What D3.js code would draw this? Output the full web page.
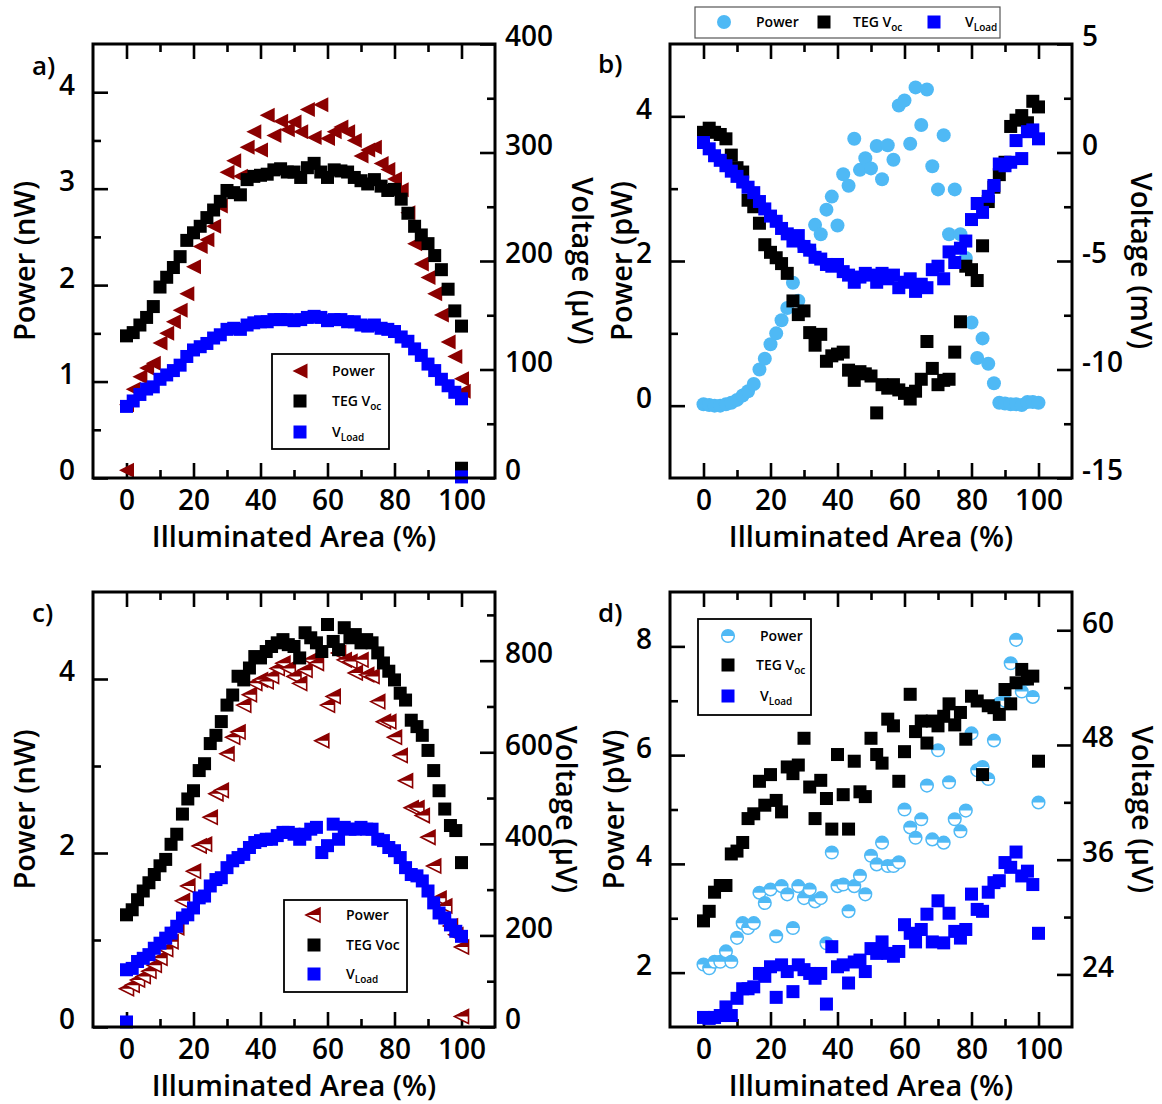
<!DOCTYPE html>
<html lang="en">
<head>
<meta charset="UTF-8">
<title>Illuminated area</title>
<script src="https://cdn.jsdelivr.net/npm/d3@7"></script>
<style>
  html, body { margin: 0; padding: 0; background: #fff; }
  svg { display: block; }
</style>
</head>
<body>
<script>
// ---- data ----
var xTicksMajor = [0, 20, 40, 60, 80, 100];
var xTicksMinor = [10, 30, 50, 70, 90];

// panel a: 2 % steps
var xA = [0,2,4,6,8,10,12,14,16,18,20,22,24,26,28,30,32,34,36,38,40,42,44,46,48,50,
          52,54,56,58,60,62,64,66,68,70,72,74,76,78,80,82,84,86,88,90,92,94,96,98,100];
var powerA = [0.76,0.92,1.05,1.14,1.19,1.40,1.50,1.62,1.74,1.91,2.19,2.40,2.47,2.61,2.82,3.17,3.29,3.13,3.43,3.59,
              3.40,3.76,3.55,3.70,3.61,3.69,3.59,3.82,3.53,3.87,3.52,3.59,3.64,3.59,3.50,3.34,3.40,3.43,3.26,3.20,
              3.10,2.99,2.75,2.43,2.22,2.08,1.91,1.69,1.41,1.26,1.03];
var tegA = [131,134,141,148,158,176,185,194,204,219,226,232,240,247,255,265,263,261,275,278,
            279,280,284,285,282,282,277,286,290,282,277,284,283,282,277,274,271,275,269,265,
            266,257,244,232,224,216,205,192,174,154,140];
var loadA = [66,71,77,82,84,91,95,99,104,112,118,121,124,129,132,137,138,137,141,143,
             144,144,146,146,146,145,146,148,149,148,145,146,146,144,144,141,140,141,138,137,
             135,130,126,119,113,105,99,91,85,79,73];
var powerAExtra = [[0, 0.08], [100.5, 0.9]];
var tegAExtra = [[100, 9]];
var loadAExtra = [[100, 1]];

// panels b, c, d: 61 points
var xFine = [0,1.7,3.3,5,6.7,8.3,10,11.7,13.3,15,16.7,18.3,20,21.7,23.3,25,26.7,28.3,30,31.7,
             33.3,35,36.7,38.3,40,41.7,43.3,45,46.7,48.3,50,51.7,53.3,55,56.7,58.3,60,61.7,63.3,65,
             66.7,68.3,70,71.7,73.3,75,76.7,78.3,80,81.7,83.3,85,86.7,88.3,90,91.7,93.3,95,96.7,98.3,100];

var powerB = [0.02,0.01,0.0,0.0,0.02,0.04,0.08,0.14,0.2,0.3,0.5,0.65,0.85,1.0,1.18,1.35,1.7,1.45,2.2,2.15,
              2.5,2.37,2.71,2.89,2.49,3.2,3.04,3.69,3.26,3.42,3.28,3.59,3.13,3.6,3.4,4.15,4.22,3.62,4.4,3.88,
              4.37,3.31,2.99,3.74,2.37,2.99,2.37,2.04,1.15,0.66,0.93,0.58,0.31,0.04,0.03,0.02,0.02,0.01,0.05,0.05,0.04];
var tegB = [0.93,1.12,0.93,0.83,0.63,-0.12,-0.7,-0.9,-2.2,-2.5,-3.26,-4.25,-4.6,-4.85,-5.12,-5.57,-6.84,-7.47,-7.3,-8.3,
            -8.88,-8.38,-9.62,-9.37,-9.29,-9.2,-10.03,-10.5,-10.1,-10.2,-10.3,-12.0,-10.7,-10.86,-10.7,-10.94,-11.1,-11.36,-11.0,-10.45,
            -8.71,-9.95,-10.7,-10.5,-10.45,-9.2,-7.8,-5.24,-5.4,-5.9,-4.3,-2.26,-1.6,-1.02,-0.45,1.2,1.49,1.7,1.37,2.36,2.1];
var loadB = [0.46,0.17,-0.15,-0.36,-0.61,-0.86,-1.1,-1.36,-1.6,-1.85,-2.26,-2.6,-2.93,-3.17,-3.5,-3.75,-4.08,-3.83,-4.33,-4.5,
             -4.83,-4.91,-5.16,-5.24,-5.16,-5.49,-5.65,-5.98,-5.74,-5.57,-5.65,-5.98,-5.57,-5.82,-5.65,-6.23,-5.98,-5.82,-6.4,-6.07,
             -6.23,-5.4,-5.24,-5.82,-4.58,-5.07,-4.41,-4.08,-3.09,-2.35,-2.76,-2.02,-1.52,-0.53,-0.61,-0.45,0.55,-0.28,0.96,1.04,0.63];

var powerC = [0.44,0.48,0.54,0.58,0.64,0.71,0.79,0.89,0.98,1.14,1.45,1.62,1.79,2.08,2.1,2.41,2.68,2.72,3.14,3.33,
              3.39,3.7,3.82,3.95,3.99,3.97,4.03,4.12,4.18,4.12,4.03,3.95,4.1,4.22,4.18,3.29,3.7,3.8,4.3,4.22,
              4.2,4.07,4.22,4.05,4.03,3.74,3.51,3.51,3.33,3.12,2.83,2.52,2.52,2.43,2.18,1.85,1.48,1.39,1.16,1.06,0.92];
var tegC = [245,256,278,297,315,333,352,366,399,421,465,498,516,560,575,619,637,667,703,725,
            766,758,784,809,806,820,831,839,846,835,831,806,861,850,839,820,879,842,824,872,
            850,857,839,846,839,817,795,777,758,729,714,670,656,637,604,560,516,476,440,429,359];
var loadC = [125,128,143,150,158,172,183,194,205,220,238,245,260,282,286,308,322,326,348,363,
             370,377,392,403,407,410,410,418,425,425,421,410,421,432,436,381,396,443,410,436,
             432,432,436,432,432,410,407,392,385,370,348,333,330,319,297,271,249,238,223,209,198];
var powerCExtra = [[100, 0.12]];
var loadCExtra = [[0, 11]];

var powerD = [2.15,2.08,2.2,2.2,2.39,2.2,2.64,2.91,2.82,2.91,3.47,3.28,3.53,2.67,3.59,3.44,2.82,3.59,3.37,3.53,
              3.31,3.37,2.54,4.21,3.59,3.62,3.13,3.59,3.78,3.44,4.15,3.99,4.39,3.96,3.96,4.03,5.0,4.67,4.48,4.82,
              5.44,4.45,6.09,4.39,5.5,4.82,4.6,4.98,6.4,5.72,5.78,5.56,6.27,6.95,7.0,7.69,8.12,7.17,7.4,7.07,5.13];
var tegD = [29.6,30.6,32.6,33.3,33.3,36.6,36.9,37.8,40.3,40.8,44.2,41.7,44.9,42.2,41.0,45.7,45,45.9,48.7,43.6,
            40.3,44.3,42.4,39.2,47,42.8,39.2,46.3,43.1,42.6,48.7,47,46.1,50.7,50,44.2,47.3,53.3,49.4,50.5,
            48.2,50.5,50,51,52.3,50.1,51.4,48.6,53.1,52.6,44.9,52.1,51.9,51.2,53.8,52.3,54.5,55.9,54.9,55.2,46.3];
var loadD = [19.5,19.4,19.5,19.7,20.6,19.7,21.5,22.5,22.5,22.7,24.1,23.8,24.8,21.6,25,24.3,22.2,25,24.5,24.1,
             23.6,24.1,20.9,26.9,24.8,25,23.1,25.3,25.5,24.3,26.7,26.2,27.4,26.2,25.9,26.4,29.2,28.3,27.4,28.7,
             30.3,27.4,31.7,27.3,30.4,28.5,27.8,28.7,32.4,30.8,30.6,32.6,33.6,33.8,35.7,35.2,36.8,34.3,34.8,33.4,28.3];

// ---- drawing ----
var FONT = "'Open Sans', 'Noto Sans', sans-serif";
var RED = "#8b0000", BLUE = "#0000ff", SKY = "#4fb9f5";

var svg = d3.select("body").append("svg").attr("width", 1162).attr("height", 1104);

function pairs(xs, ys) { return ys.map(function(v, i) { return [xs[i], v]; }); }

// marker painters, each draws one symbol into a <g> centred at 0,0
var marks = {
  triFull: function(s, c) {
    s.append("path").attr("d", "M-7.5,0L7.5,-7.5L7.5,7.5Z").attr("fill", c);
  },
  triHalf: function(s, c) {
    s.append("path").attr("d", "M-7,0L7,-7L7,7Z").attr("fill", "#fff").attr("stroke", c).attr("stroke-width", 1.6);
    s.append("path").attr("d", "M-7,0L7,-7L7,0Z").attr("fill", c);
  },
  square: function(s, c) {
    s.append("rect").attr("x", -6.5).attr("y", -6.5).attr("width", 13).attr("height", 13).attr("fill", c);
  },
  circle: function(s, c) {
    s.append("circle").attr("r", 7).attr("fill", c);
  },
  circleHalf: function(s, c) {
    s.append("circle").attr("r", 6.3).attr("fill", "#fff").attr("stroke", c).attr("stroke-width", 1.5);
    s.append("path").attr("d", "M-6.3,0A6.3,6.3 0 0 1 6.3,0Z").attr("fill", c);
  }
};

function scatter(g, pts, x, y, mark, color) {
  g.append("g").selectAll("g").data(pts).join("g")
    .attr("transform", function(d) { return "translate(" + x(d[0]) + "," + y(d[1]) + ")"; })
    .each(function() { marks[mark](d3.select(this), color); });
}

function styleText(sel, size) {
  sel.attr("font-family", FONT).attr("font-size", size).attr("font-weight", 600).attr("fill", "#000");
}

function labelWithSub(t, main, sub) {
  t.append("tspan").text(main);
  if (sub) t.append("tspan").text(sub).attr("font-size", 10).attr("dy", 4);
}

function drawPanel(p) {
  var g = svg.append("g");
  var x = d3.scaleLinear().domain([-10, 110]).range([p.left, p.right]);
  var yL = d3.scaleLinear().domain(p.yL).range([p.bottom, p.top]);
  var yR = d3.scaleLinear().domain(p.yR).range([p.bottom, p.top]);
  var fmt = function(d) { return String(d); };

  var axes = [
    [d3.axisBottom(x).tickValues(xTicksMajor).tickSize(-15).tickPadding(12).tickFormat(fmt), p.bottom, 0, "x"],
    [d3.axisBottom(x).tickValues(xTicksMinor).tickSize(-8).tickFormat(""), p.bottom, 0],
    [d3.axisTop(x).tickValues(xTicksMajor).tickSize(-15).tickFormat(""), p.top, 0],
    [d3.axisTop(x).tickValues(xTicksMinor).tickSize(-8).tickFormat(""), p.top, 0],
    [d3.axisLeft(yL).tickValues(p.yLMajor).tickSize(-15).tickPadding(18).tickFormat(fmt), 0, p.left, "y"],
    [d3.axisLeft(yL).tickValues(p.yLMinor).tickSize(-8).tickFormat(""), 0, p.left],
    [d3.axisRight(yR).tickValues(p.yRMajor).tickSize(-15).tickPadding(10).tickFormat(fmt), 0, p.right, "y"],
    [d3.axisRight(yR).tickValues(p.yRMinor).tickSize(-8).tickFormat(""), 0, p.right]
  ];
  axes.forEach(function(a) {
    var ag = g.append("g").attr("transform", "translate(" + a[2] + "," + a[1] + ")").call(a[0]);
    ag.select(".domain").remove();
    ag.selectAll("line").attr("stroke", "#000").attr("stroke-width", 2.6);
    var txt = ag.selectAll("text");
    styleText(txt, 28);
    if (a[3] === "y") txt.attr("dy", "0.07em");
  });

  // data
  var pg = g.append("g");
  p.series.forEach(function(s) {
    scatter(pg, s.pts, x, s.axis === "L" ? yL : yR, s.mark, s.color);
  });

  g.append("rect").attr("x", p.left).attr("y", p.top)
    .attr("width", p.right - p.left).attr("height", p.bottom - p.top)
    .attr("fill", "none").attr("stroke", "#000").attr("stroke-width", 3);

  // titles
  var cy = (p.top + p.bottom) / 2;
  styleText(g.append("text").attr("x", (p.left + p.right) / 2).attr("y", p.bottom + 69)
    .attr("text-anchor", "middle").text("Illuminated Area (%)"), 29);
  styleText(g.append("text").attr("transform", "translate(" + p.lTitleX + "," + cy + ") rotate(-90)")
    .attr("text-anchor", "middle").attr("dy", "0.36em").text(p.lTitle), 29);
  styleText(g.append("text").attr("transform", "translate(" + p.rTitleX + "," + cy + ") rotate(90)")
    .attr("text-anchor", "middle").attr("dy", "0.36em").text(p.rTitle), 29);
  styleText(g.append("text").attr("x", p.tagX).attr("y", p.tagY).text(p.tag), 26);

  // legend
  var L = p.legend, lg = g.append("g");
  lg.append("rect").attr("x", L.x).attr("y", L.y).attr("width", L.w).attr("height", L.h)
    .attr("fill", "#fff").attr("stroke", L.stroke || "#000").attr("stroke-width", L.sw || 1.8);
  L.items.forEach(function(it) {
    var s = lg.append("g").attr("transform", "translate(" + it.mx + "," + it.my + ")");
    marks[it.mark](s, it.color);
    var t = lg.append("text").attr("x", it.tx).attr("y", it.my + 5);
    styleText(t, 14);
    labelWithSub(t, it.label, it.sub);
  });
}

drawPanel({
  left: 93, right: 495, top: 44, bottom: 478,
  yL: [0, 4.5], yLMajor: [0, 1, 2, 3, 4], yLMinor: [0.5, 1.5, 2.5, 3.5],
  yR: [0, 400], yRMajor: [0, 100, 200, 300, 400], yRMinor: [50, 150, 250, 350],
  lTitle: "Power (nW)", lTitleX: 25, rTitle: "Voltage (\u00b5V)", rTitleX: 582,
  tag: "a)", tagX: 32, tagY: 75,
  series: [
    { pts: pairs(xA, powerA).concat(powerAExtra), axis: "L", mark: "triFull", color: RED },
    { pts: pairs(xA, tegA).concat(tegAExtra), axis: "R", mark: "square", color: "#000" },
    { pts: pairs(xA, loadA).concat(loadAExtra), axis: "R", mark: "square", color: BLUE }
  ],
  legend: { x: 272, y: 354, w: 117, h: 95, items: [
    { mark: "triFull", color: RED, mx: 300, my: 371, tx: 332, label: "Power" },
    { mark: "square", color: "#000", mx: 300, my: 401, tx: 332, label: "TEG V", sub: "oc" },
    { mark: "square", color: BLUE, mx: 300, my: 432, tx: 332, label: "V", sub: "Load" }
  ] }
});

drawPanel({
  left: 670, right: 1072, top: 44, bottom: 478,
  yL: [-1, 5], yLMajor: [0, 2, 4], yLMinor: [1, 3],
  yR: [-15, 5], yRMajor: [-15, -10, -5, 0, 5], yRMinor: [-12.5, -7.5, -2.5, 2.5],
  lTitle: "Power (pW)", lTitleX: 622, rTitle: "Voltage (mV)", rTitleX: 1141,
  tag: "b)", tagX: 598, tagY: 73,
  series: [
    { pts: pairs(xFine, powerB), axis: "L", mark: "circle", color: SKY },
    { pts: pairs(xFine, tegB), axis: "R", mark: "square", color: "#000" },
    { pts: pairs(xFine, loadB), axis: "R", mark: "square", color: BLUE }
  ],
  legend: { x: 695, y: 7, w: 305, h: 31, stroke: "#555", sw: 1.2, items: [
    { mark: "circle", color: SKY, mx: 724, my: 22, tx: 756, label: "Power" },
    { mark: "square", color: "#000", mx: 824, my: 22, tx: 853, label: "TEG V", sub: "oc" },
    { mark: "square", color: BLUE, mx: 934, my: 22, tx: 965, label: "V", sub: "Load" }
  ] }
});

drawPanel({
  left: 93, right: 495, top: 592, bottom: 1027,
  yL: [0, 5], yLMajor: [0, 2, 4], yLMinor: [1, 3],
  yR: [0, 950], yRMajor: [0, 200, 400, 600, 800], yRMinor: [100, 300, 500, 700, 900],
  lTitle: "Power (nW)", lTitleX: 25, rTitle: "Voltage (\u00b5V)", rTitleX: 566,
  tag: "c)", tagX: 32, tagY: 622,
  series: [
    { pts: pairs(xFine, powerC).concat(powerCExtra), axis: "L", mark: "triHalf", color: RED },
    { pts: pairs(xFine, tegC), axis: "R", mark: "square", color: "#000" },
    { pts: pairs(xFine, loadC).concat(loadCExtra), axis: "R", mark: "square", color: BLUE }
  ],
  legend: { x: 284, y: 900, w: 123, h: 92, items: [
    { mark: "triHalf", color: RED, mx: 313, my: 915, tx: 346, label: "Power" },
    { mark: "square", color: "#000", mx: 314, my: 945, tx: 346, label: "TEG Voc" },
    { mark: "square", color: BLUE, mx: 314, my: 974, tx: 346, label: "V", sub: "Load" }
  ] }
});

drawPanel({
  left: 670, right: 1072, top: 592, bottom: 1027,
  yL: [1, 9], yLMajor: [2, 4, 6, 8], yLMinor: [3, 5, 7],
  yR: [18.5, 64], yRMajor: [24, 36, 48, 60], yRMinor: [30, 42, 54],
  lTitle: "Power (pW)", lTitleX: 614, rTitle: "Voltage (\u00b5V)", rTitleX: 1142,
  tag: "d)", tagX: 598, tagY: 622,
  series: [
    { pts: pairs(xFine, powerD), axis: "L", mark: "circleHalf", color: SKY },
    { pts: pairs(xFine, tegD), axis: "R", mark: "square", color: "#000" },
    { pts: pairs(xFine, loadD), axis: "R", mark: "square", color: BLUE }
  ],
  legend: { x: 698, y: 619, w: 113, h: 96, items: [
    { mark: "circleHalf", color: SKY, mx: 728, my: 636, tx: 760, label: "Power" },
    { mark: "square", color: "#000", mx: 728, my: 665, tx: 756, label: "TEG V", sub: "oc" },
    { mark: "square", color: BLUE, mx: 728, my: 696, tx: 760, label: "V", sub: "Load" }
  ] }
});
</script>
</body>
</html>
